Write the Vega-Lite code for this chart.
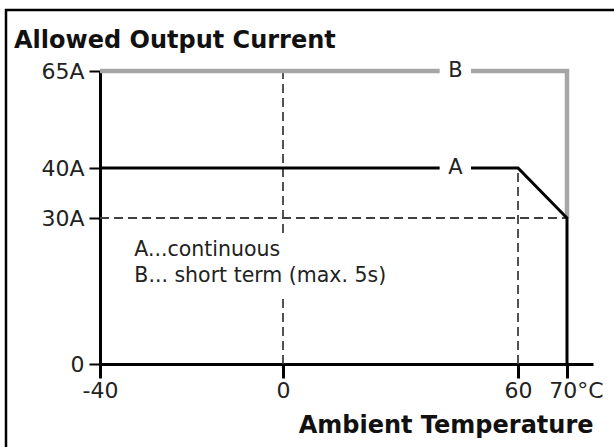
{
  "$schema": "https://vega.github.io/schema/vega-lite/v6.json",
  "width": 614,
  "height": 442,
  "autosize": "none",
  "padding": {"left": 6, "top": 10, "right": -6, "bottom": -5},
  "background": "#ffffff",
  "title": {
    "text": "Allowed Output Current",
    "anchor": "start",
    "frame": "group",
    "orient": "top",
    "offset": 0,
    "dx": 8,
    "dy": 62,
    "baseline": "alphabetic",
    "font": "DejaVu Sans",
    "fontSize": 24,
    "fontWeight": "bold",
    "color": "#111111"
  },
  "config": {
    "view": {"stroke": "#000000", "strokeWidth": 2.5},
    "axis": {"grid": false}
  },
  "datasets": {
    "dashes": [
      {"x": 0, "y": 26.9, "x2": 0, "y2": 65},
      {"x": 0, "y": 0, "x2": 0, "y2": 13.8},
      {"x": -40, "y": 30, "x2": 70, "y2": 30},
      {"x": 60, "y": 0, "x2": 60, "y2": 40}
    ],
    "curves": [
      {"curve": "B", "seg": "B1", "i": 1, "x": -40, "y": 65},
      {"curve": "B", "seg": "B1", "i": 2, "x": 40, "y": 65},
      {"curve": "B", "seg": "B2", "i": 1, "x": 48, "y": 65},
      {"curve": "B", "seg": "B2", "i": 2, "x": 70, "y": 65},
      {"curve": "B", "seg": "B2", "i": 3, "x": 70, "y": 30},
      {"curve": "A", "seg": "A1", "i": 1, "x": -40, "y": 40},
      {"curve": "A", "seg": "A1", "i": 2, "x": 40, "y": 40},
      {"curve": "A", "seg": "A2", "i": 1, "x": 48, "y": 40},
      {"curve": "A", "seg": "A2", "i": 2, "x": 60, "y": 40},
      {"curve": "A", "seg": "A2", "i": 3, "x": 70, "y": 30},
      {"curve": "A", "seg": "A2", "i": 4, "x": 70, "y": 0}
    ],
    "tags": [
      {"label": "A", "x": 44, "y": 40},
      {"label": "B", "x": 44, "y": 65}
    ],
    "notes": [
      {"label": "A...continuous", "x": -32.5, "y": 22.2},
      {"label": "B... short term (max. 5s)", "x": -32.5, "y": 16.8}
    ]
  },
  "encoding": {
    "x": {
      "field": "x",
      "type": "quantitative",
      "scale": {"type": "linear", "domain": [-40, 0, 60, 70, 80], "range": [94, 277, 512, 561, 587], "nice": false, "zero": false},
      "axis": {
        "values": [-40, 0, 60, 70],
        "labelExpr": "datum.value == 70 ? '70°C' : '' + datum.value",
        "title": "Ambient Temperature",
        "offset": -88,
        "grid": false,
        "domainColor": "#000000",
        "domainWidth": 3,
        "tickColor": "#000000",
        "tickWidth": 3,
        "tickSize": 14,
        "labelPadding": 2,
        "labelFont": "DejaVu Sans",
        "labelFontSize": 22,
        "labelColor": "#222222",
        "labelOffset": {"condition": {"test": "datum.value == 70", "value": 9}, "value": 0},
        "labelFlush": false,
        "labelOverlap": false,
        "labelBound": false,
        "titleFont": "DejaVu Sans",
        "titleFontSize": 24,
        "titleFontWeight": "bold",
        "titleColor": "#111111",
        "titleAnchor": "end",
        "titleAlign": "right",
        "titleBaseline": "alphabetic",
        "titleY": 68
      }
    },
    "y": {
      "field": "y",
      "type": "quantitative",
      "scale": {"type": "linear", "domain": [0, 30, 40, 65], "range": [354, 208, 158, 61], "nice": false, "zero": false},
      "axis": {
        "values": [0, 30, 40, 65],
        "labelExpr": "datum.value == 0 ? '0' : datum.value + 'A'",
        "title": null,
        "offset": -94,
        "grid": false,
        "domainColor": "#000000",
        "domainWidth": 3,
        "tickColor": "#000000",
        "tickWidth": 2,
        "tickSize": 11,
        "labelPadding": 5,
        "labelFont": "DejaVu Sans",
        "labelFontSize": 22,
        "labelColor": "#222222",
        "labelFlush": false,
        "labelOverlap": false,
        "labelBound": false
      }
    }
  },
  "layer": [
    {
      "data": {"name": "dashes"},
      "mark": {"type": "rule", "stroke": "#404040", "strokeWidth": 1.8, "strokeDash": [9, 5]},
      "encoding": {
        "x2": {"field": "x2"},
        "y2": {"field": "y2"}
      }
    },
    {
      "data": {"name": "curves"},
      "transform": [{"filter": "datum.curve == 'B'"}],
      "mark": {"type": "line", "stroke": "#a6a6a6", "strokeWidth": 4.5, "strokeJoin": "miter", "strokeCap": "butt"},
      "encoding": {
        "detail": {"field": "seg"},
        "order": {"field": "i", "type": "quantitative"}
      }
    },
    {
      "data": {"name": "curves"},
      "transform": [{"filter": "datum.curve == 'A'"}],
      "mark": {"type": "line", "stroke": "#000000", "strokeWidth": 3, "strokeJoin": "miter", "strokeCap": "butt"},
      "encoding": {
        "detail": {"field": "seg"},
        "order": {"field": "i", "type": "quantitative"}
      }
    },
    {
      "data": {"name": "tags"},
      "mark": {"type": "text", "font": "DejaVu Sans", "fontSize": 21, "color": "#222222", "align": "center", "baseline": "middle"},
      "encoding": {"text": {"field": "label"}}
    },
    {
      "data": {"name": "notes"},
      "mark": {"type": "text", "font": "DejaVu Sans", "fontSize": 20.5, "color": "#222222", "align": "left", "baseline": "alphabetic"},
      "encoding": {"text": {"field": "label"}}
    }
  ]
}
